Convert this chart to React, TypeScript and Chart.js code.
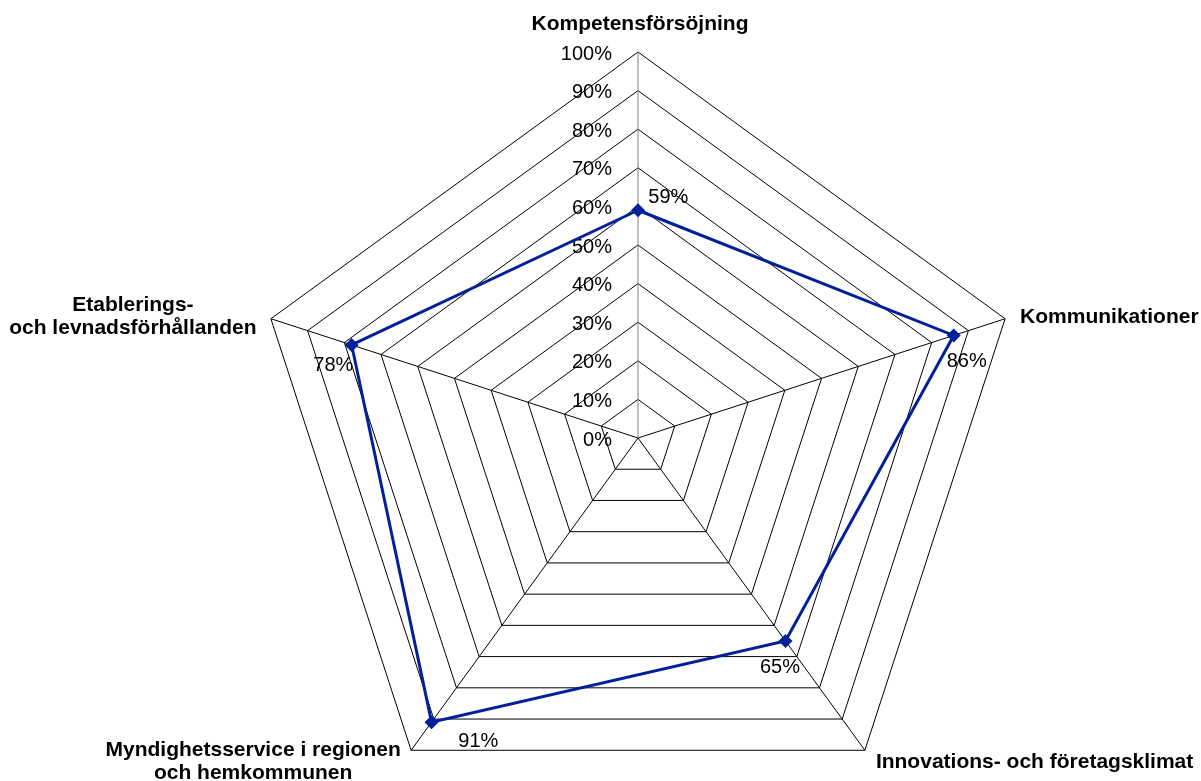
import React, { useEffect, useRef } from 'react';
import { Chart, registerables } from 'chart.js';

Chart.register(...registerables);

// ---- data ----
const categories: string[][] = [
  ['Kompetensförsöjning'],
  ['Kommunikationer'],
  ['Innovations- och företagsklimat'],
  ['Myndighetsservice i regionen', 'och hemkommunen'],
  ['Etablerings-', 'och levnadsförhållanden'],
];
const values: number[] = [59, 86, 65, 91, 78];
const valueLabels: string[] = ['59%', '86%', '65%', '91%', '78%'];
const tickValues: number[] = [0, 10, 20, 30, 40, 50, 60, 70, 80, 90, 100];
const tickLabels: string[] = ['0%', '10%', '20%', '30%', '40%', '50%', '60%', '70%', '80%', '90%', '100%'];

// ---- styling ----
const FONT = '"Liberation Sans", Arial, Helvetica, sans-serif';
const BLUE = '#02209A';
const LINE_H = 23.5;

const pointLabelLayout: { dx: number; dy: number; align: CanvasTextAlign }[] = [
  { dx: 2, dy: -22, align: 'center' },
  { dx: 15, dy: 4.6, align: 'left' },
  { dx: 11, dy: 17.4, align: 'left' },
  { dx: -158, dy: 5.4, align: 'center' },
  { dx: -138, dy: -8, align: 'center' },
];
const valueLabelLayout: { dx: number; dy: number }[] = [
  { dx: 10.3, dy: -7 },
  { dx: -7, dy: 32 },
  { dx: -25.5, dy: 32.3 },
  { dx: 26.8, dy: 25 },
  { dx: -38.3, dy: 25.7 },
];

const textPlugin = {
  id: 'textPlugin',
  beforeDatasetsDraw(chart: any) {
    const scale = chart.scales.r;
    const ctx: CanvasRenderingContext2D = chart.ctx;
    ctx.save();
    ctx.fillStyle = '#000';
    ctx.textBaseline = 'alphabetic';
    ctx.font = `20px ${FONT}`;
    ctx.textAlign = 'right';
    tickValues.forEach((v, i) => {
      const y = scale.yCenter - scale.getDistanceFromCenterForValue(v);
      ctx.fillText(tickLabels[i], scale.xCenter - 26, y + 7.5);
    });
    ctx.font = `bold 21px ${FONT}`;
    categories.forEach((lines, i) => {
      const p = scale.getPointPosition(i, scale.drawingArea);
      const L = pointLabelLayout[i];
      ctx.textAlign = L.align;
      lines.forEach((line, j) => {
        ctx.fillText(line, p.x + L.dx, p.y + L.dy + j * LINE_H);
      });
    });
    ctx.restore();
  },
  afterDatasetsDraw(chart: any) {
    const ctx: CanvasRenderingContext2D = chart.ctx;
    const meta = chart.getDatasetMeta(0);
    ctx.save();
    ctx.fillStyle = '#000';
    ctx.font = `20px ${FONT}`;
    ctx.textAlign = 'left';
    ctx.textBaseline = 'alphabetic';
    meta.data.forEach((el: any, i: number) => {
      const L = valueLabelLayout[i];
      ctx.fillText(valueLabels[i], el.x + L.dx, el.y + L.dy);
    });
    ctx.restore();
  },
};

export default function App() {
  const ref = useRef<HTMLCanvasElement | null>(null);

  useEffect(() => {
    if (!ref.current) return;
    const chart = new Chart(ref.current, {
      type: 'radar',
      data: {
        labels: categories.map((c) => c.join(' ')),
        datasets: [
          {
            data: values,
            borderColor: BLUE,
            backgroundColor: BLUE,
            borderWidth: 3,
            fill: false,
            tension: 0,
            pointStyle: 'rectRot',
            pointRadius: 7,
            pointHoverRadius: 7,
            pointBackgroundColor: BLUE,
            pointBorderColor: BLUE,
            pointBorderWidth: 0,
          },
        ],
      },
      options: {
        animation: false,
        responsive: false,
        devicePixelRatio: 1,
        events: [],
        layout: { padding: { top: 52, bottom: 6, left: 252, right: 177 } },
        plugins: { legend: { display: false }, tooltip: { enabled: false } },
        scales: {
          r: {
            min: 0,
            max: 100,
            startAngle: 0,
            ticks: { display: false, stepSize: 10 },
            pointLabels: { display: false },
            grid: { color: '#000', lineWidth: 1, circular: false },
            angleLines: {
              color: (c: any) => (c.index === 0 ? '#808080' : '#000'),
              lineWidth: 1,
            },
          },
        },
      } as any,
      plugins: [textPlugin],
    });
    return () => chart.destroy();
  }, []);

  return (
    <div
      style={{
        position: 'fixed',
        left: 0,
        top: 0,
        width: 1201,
        height: 781,
        overflow: 'hidden',
        background: '#fff',
      }}
    >
      <canvas ref={ref} width={1201} height={830} style={{ display: 'block' }} />
    </div>
  );
}
